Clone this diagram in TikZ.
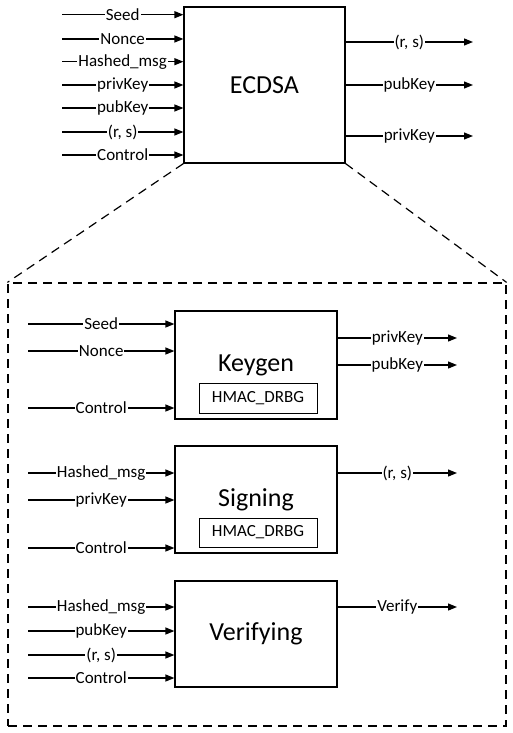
\documentclass[tikz,border=0pt]{standalone}
\usepackage{fontspec}
\setmainfont{Carlito}
\usetikzlibrary{arrows.meta}

\begin{document}
\begin{tikzpicture}[x=1pt,y=-1pt]
	\useasboundingbox (0,0) rectangle (513,733);
	% blocks
	\begin{scope}[every node/.style = {draw, line width=1.2pt, inner sep=0pt,
			font = \fontsize{26}{30}\selectfont}]
		\node[minimum width=161, minimum height=156] (ECDSA) at (264.5,85) {ECDSA};
		\node[minimum width=162, minimum height=108] (Keygen) at (256,365) {Keygen};
		\node[minimum width=162, minimum height=107] (Signing) at (256,499.5) {Signing};
		\node[minimum width=162, minimum height=106] (Verifying) at (256,634) {Verifying};
	\end{scope}
	\begin{scope}[every node/.style = {draw, line width=1pt, inner sep=0pt,
			font = \fontsize{17}{20}\selectfont}]
		\node[minimum width=118, minimum height=30] (kgDRBG) at (258,398) {HMAC\_DRBG};
		\node[minimum width=118, minimum height=29] (sgDRBG) at (258,532.5) {HMAC\_DRBG};
	\end{scope}
	\node[draw, dashed, dash pattern=on 9pt off 6pt, line width=1.2pt,
		minimum width=498, minimum height=443] (detail) at (257,504.5) {};
	\draw[dash pattern=on 9pt off 6pt, line width=1.2pt] (ECDSA.south west) -- (detail.north west);
	\draw[dash pattern=on 9pt off 6pt, line width=1.2pt] (ECDSA.south east) -- (detail.north east);

	% free ends
	\coordinate (eIn1) at (62,14.7);
	\coordinate (eIn2) at (62,39);
	\coordinate (eIn3) at (62,61.7);
	\coordinate (eIn4) at (62,85);
	\coordinate (eIn5) at (62,108);
	\coordinate (eIn6) at (62,132);
	\coordinate (eIn7) at (62,155);
	\coordinate (eOut1) at (473,42);
	\coordinate (eOut2) at (473,85);
	\coordinate (eOut3) at (473,136);
	\coordinate (kIn1) at (28,324);
	\coordinate (kIn2) at (28,351);
	\coordinate (kIn3) at (28,408);
	\coordinate (kOut1) at (457,338);
	\coordinate (kOut2) at (457,365);
	\coordinate (sIn1) at (28,473);
	\coordinate (sIn2) at (28,500);
	\coordinate (sIn3) at (28,548);
	\coordinate (sOut1) at (457,473);
	\coordinate (vIn1) at (28,607);
	\coordinate (vIn2) at (28,631);
	\coordinate (vIn3) at (28,655);
	\coordinate (vIn4) at (28,678);
	\coordinate (vOut1) at (457,607);

	% signals
	\begin{scope}[every node/.style = {fill=white, inner sep=1pt,
			font = \fontsize{17}{20}\selectfont},
			every edge/.style = {draw=black, line width=1.2pt,
			-{Triangle[length=9pt, width=7pt]}}]
		\path (eIn1) edge node {Seed} (eIn1 -| ECDSA.west);
		\path (eIn2) edge node {Nonce} (eIn2 -| ECDSA.west);
		\path (eIn3) edge node {Hashed\_msg} (eIn3 -| ECDSA.west);
		\path (eIn4) edge node {privKey} (eIn4 -| ECDSA.west);
		\path (eIn5) edge node {pubKey} (eIn5 -| ECDSA.west);
		\path (eIn6) edge node {(r, s)} (eIn6 -| ECDSA.west);
		\path (eIn7) edge node {Control} (eIn7 -| ECDSA.west);
		\path (eOut1 -| ECDSA.east) edge node {(r, s)} (eOut1);
		\path (eOut2 -| ECDSA.east) edge node {pubKey} (eOut2);
		\path (eOut3 -| ECDSA.east) edge node {privKey} (eOut3);

		\path (kIn1) edge node {Seed} (kIn1 -| Keygen.west);
		\path (kIn2) edge node {Nonce} (kIn2 -| Keygen.west);
		\path (kIn3) edge node {Control} (kIn3 -| Keygen.west);
		\path (kOut1 -| Keygen.east) edge node {privKey} (kOut1);
		\path (kOut2 -| Keygen.east) edge node {pubKey} (kOut2);

		\path (sIn1) edge node {Hashed\_msg} (sIn1 -| Signing.west);
		\path (sIn2) edge node {privKey} (sIn2 -| Signing.west);
		\path (sIn3) edge node {Control} (sIn3 -| Signing.west);
		\path (sOut1 -| Signing.east) edge node {(r, s)} (sOut1);

		\path (vIn1) edge node {Hashed\_msg} (vIn1 -| Verifying.west);
		\path (vIn2) edge node {pubKey} (vIn2 -| Verifying.west);
		\path (vIn3) edge node {(r, s)} (vIn3 -| Verifying.west);
		\path (vIn4) edge node {Control} (vIn4 -| Verifying.west);
		\path (vOut1 -| Verifying.east) edge node {Verify} (vOut1);
	\end{scope}
\end{tikzpicture}
\end{document}
